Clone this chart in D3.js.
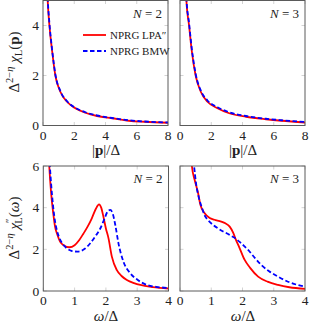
<!DOCTYPE html>
<html><head><meta charset="utf-8">
<script src="https://cdn.jsdelivr.net/npm/d3@7"></script>
<style>body{margin:0;background:#fff}svg{display:block}</style>
</head><body>
<script>
// ---- data ----
const topN2_p   = [0.26,0.30,0.41,0.58,0.79,1.11,1.54,2.07,2.71,3.46,4.42,5.5,6.5,8];
const topN2_lpa = [5.6,5.0,4.0,3.0,2.0,1.35,0.95,0.69,0.51,0.38,0.29,0.19,0.15,0.11];
const topN2_bmw = [5.7,5.1,4.1,3.05,2.05,1.38,0.97,0.71,0.53,0.40,0.30,0.21,0.16,0.12];
const topN3_p   = [0.37,0.41,0.58,0.75,1.0,1.33,1.76,2.4,3.15,4.22,5.5,6.5,8];
const topN3_lpa = [5.6,5.0,4.0,3.0,2.0,1.35,0.95,0.69,0.49,0.35,0.25,0.19,0.12];
const topN3_bmw = [5.7,5.1,4.1,3.1,2.07,1.4,1.0,0.73,0.53,0.38,0.27,0.21,0.14];

const botN2_lpa_w = [0.17,0.19,0.25,0.32,0.375,0.45,0.535,0.65,0.83,1.0,1.15,1.28,1.42,1.55,1.68,1.78,1.85,1.92,2.0,2.08,2.19,2.35,2.5,2.67,2.9,3.1,3.5,4.0];
const botN2_lpa   = [6.6,6.0,4.7,3.7,3.09,2.7,2.37,2.2,2.10,2.2,2.45,2.75,3.1,3.49,3.95,4.16,4.0,3.57,3.0,2.55,1.65,1.0,0.72,0.53,0.38,0.29,0.19,0.12];
const botN2_bmw_w = [0.19,0.21,0.28,0.35,0.42,0.5,0.6,0.75,0.9,1.09,1.3,1.5,1.65,1.82,1.95,2.05,2.14,2.22,2.3,2.4,2.56,2.78,3.0,3.31,3.6,4.0];
const botN2_bmw   = [6.5,6.0,4.6,3.6,3.0,2.6,2.3,2.05,1.93,1.89,2.0,2.29,2.6,3.0,3.45,3.8,3.89,3.7,3.17,2.3,1.41,0.85,0.55,0.29,0.2,0.15];

const botN3_lpa_w = [0.35,0.38,0.47,0.58,0.65,0.79,0.95,1.1,1.32,1.45,1.59,1.7,1.77,1.91,2.07,2.25,2.5,2.8,3.14,3.5,4.0];
const botN3_lpa   = [6.6,6.0,5.33,4.69,4.15,3.73,3.5,3.42,3.33,3.25,3.09,2.8,2.53,2.05,1.49,1.1,0.69,0.45,0.29,0.18,0.1];
const botN3_bmw_w = [0.41,0.45,0.52,0.6,0.7,0.8,0.9,1.05,1.22,1.38,1.54,1.65,1.77,1.95,2.18,2.4,2.6,2.85,3.14,3.5,4.0];
const botN3_bmw   = [6.6,6.0,5.1,4.5,4.0,3.6,3.4,3.18,3.0,2.86,2.74,2.64,2.53,2.3,1.97,1.58,1.25,0.95,0.69,0.42,0.21];

const topXTicks = [0,2,4,6,8], topYTicks = [0,2,4];
const botXTicks = [0,1,2,3,4], botYTicks = [0,2,4,6];
const legendLabels = ["NPRG LPA\u2033","NPRG BMW"];
const nLabels = ["N = 2","N = 3"];

// ---- drawing ----
const FONT = "Liberation Serif";
const svg = d3.select("body").append("svg").attr("width",313).attr("height",325)
  .attr("font-family",FONT).attr("fill","#222");
const RED="#ff0000", BLUE="#0000ff";

const panels = [
  {x0:43,x1:168,y0:0.5,y1:125.5,xd:[0,8],yd:[0,5],xt:topXTicks,yt:topYTicks,yl:true,N:nLabels[0],
   series:[[topN2_p,topN2_lpa,0],[topN2_p,topN2_bmw,1]],legend:true},
  {x0:180,x1:305,y0:0.5,y1:125.5,xd:[0,8],yd:[0,5],xt:topXTicks,yt:topYTicks,yl:false,N:nLabels[1],
   series:[[topN3_p,topN3_lpa,0],[topN3_p,topN3_bmw,1]]},
  {x0:43.3,x1:168.5,y0:166,y1:291,xd:[0,4],yd:[0,6],xt:botXTicks,yt:botYTicks,yl:true,N:nLabels[0],
   series:[[botN2_lpa_w,botN2_lpa,0],[botN2_bmw_w,botN2_bmw,1]]},
  {x0:180,x1:305,y0:166,y1:291,xd:[0,4],yd:[0,6],xt:botXTicks,yt:botYTicks,yl:false,N:nLabels[1],
   series:[[botN3_lpa_w,botN3_lpa,0],[botN3_bmw_w,botN3_bmw,1]]}
];

panels.forEach((P,i)=>{
  const x = d3.scaleLinear().domain(P.xd).range([P.x0,P.x1]);
  const y = d3.scaleLinear().domain(P.yd).range([P.y1,P.y0]);
  const g = svg.append("g");
  const cid = "clip"+i;
  svg.append("clipPath").attr("id",cid).append("rect")
    .attr("x",P.x0).attr("y",P.y0).attr("width",P.x1-P.x0).attr("height",P.y1-P.y0);
  const tk = g.append("g").attr("stroke","#c8c8c8").attr("stroke-width",0.8);
  P.xt.forEach(t=>{
    tk.append("line").attr("x1",x(t)).attr("x2",x(t)).attr("y1",P.y1).attr("y2",P.y1-3.5);
    tk.append("line").attr("x1",x(t)).attr("x2",x(t)).attr("y1",P.y0).attr("y2",P.y0+3.5);
  });
  P.yt.forEach(t=>{
    tk.append("line").attr("y1",y(t)).attr("y2",y(t)).attr("x1",P.x0).attr("x2",P.x0+3.5);
    tk.append("line").attr("y1",y(t)).attr("y2",y(t)).attr("x1",P.x1).attr("x2",P.x1-3.5);
  });
  const line = d3.line().x(d=>x(d[0])).y(d=>y(d[1])).curve(d3.curveMonotoneX);
  const cg = g.append("g").attr("clip-path",`url(#${cid})`);
  P.series.forEach(([xs,ys,k])=>{
    const pts = xs.map((v,j)=>[v,ys[j]]);
    cg.append("path").attr("d",line(pts)).attr("fill","none")
      .attr("stroke",k===0?RED:BLUE).attr("stroke-width",1.8)
      .attr("stroke-dasharray",k===0?null:"4.5,2.5");
  });
  g.append("rect").attr("x",P.x0).attr("y",P.y0).attr("width",P.x1-P.x0).attr("height",P.y1-P.y0)
    .attr("fill","none").attr("stroke","#5a5a5a").attr("stroke-width",1);
  P.xt.forEach(t=>{
    g.append("text").attr("x",x(t)).attr("y",P.y1+14).attr("text-anchor","middle")
      .attr("font-size",13.5).text(t);
  });
  if(P.yl){
    P.yt.forEach(t=>{
      g.append("text").attr("x",P.x0-4).attr("y",y(t)+4.5).attr("text-anchor","end")
        .attr("font-size",13.5).text(t);
    });
  }
  const parts = P.N.split(" = ");
  const nt = g.append("text").attr("x",P.x1-6).attr("y",P.y0+17).attr("text-anchor","end").attr("font-size",13);
  nt.append("tspan").attr("font-style","italic").text(parts[0]);
  nt.append("tspan").text(" = "+parts[1]);
  if(P.legend){
    legendLabels.forEach((lab,k)=>{
      const ly = 35 + k*16;
      g.append("line").attr("x1",83).attr("x2",106).attr("y1",ly).attr("y2",ly)
        .attr("stroke",k===0?RED:BLUE).attr("stroke-width",1.8)
        .attr("stroke-dasharray",k===0?null:"4.5,2.5");
      g.append("text").attr("x",110).attr("y",ly+3.8).attr("font-size",11).text(lab);
    });
  }
});

function xLabelTop(cx, cy){
  const t = svg.append("text").attr("x",cx).attr("y",cy).attr("text-anchor","middle").attr("font-size",15);
  t.append("tspan").text("|");
  t.append("tspan").attr("font-weight","bold").text("p");
  t.append("tspan").text("|/\u0394");
}
xLabelTop(106,155); xLabelTop(243,155);
function xLabelBot(cx, cy){
  const t = svg.append("text").attr("x",cx).attr("y",cy).attr("text-anchor","middle").attr("font-size",15);
  t.append("tspan").attr("font-style","italic").text("\u03c9");
  t.append("tspan").text("/\u0394");
}
xLabelBot(106,321); xLabelBot(243,321);

function yLabel(cy, bottom){
  const t = svg.append("text").attr("transform",`translate(19,${cy}) rotate(-90)`)
    .attr("text-anchor","middle").attr("font-size",15);
  t.append("tspan").text("\u0394");
  t.append("tspan").attr("dy",-6).attr("font-size",10.5).text("2\u2212");
  t.append("tspan").attr("font-size",10.5).attr("font-style","italic").text("\u03b7");
  t.append("tspan").attr("dy",6).text(" ");
  t.append("tspan").attr("font-style","italic").text("\u03c7");
  if(bottom){
    t.append("tspan").attr("dy",-6).attr("font-size",10.5).text("\u2033");
    t.append("tspan").attr("dx",-5).attr("dy",9).attr("font-size",10.5).text("L");
    t.append("tspan").attr("dy",-3).text("(");
    t.append("tspan").attr("font-style","italic").text("\u03c9");
    t.append("tspan").text(")");
  } else {
    t.append("tspan").attr("dy",3).attr("font-size",10.5).text("L");
    t.append("tspan").attr("dy",-3).text("(");
    t.append("tspan").attr("font-weight","bold").text("p");
    t.append("tspan").text(")");
  }
}
yLabel(62,false); yLabel(228,true);
</script>
</body></html>
